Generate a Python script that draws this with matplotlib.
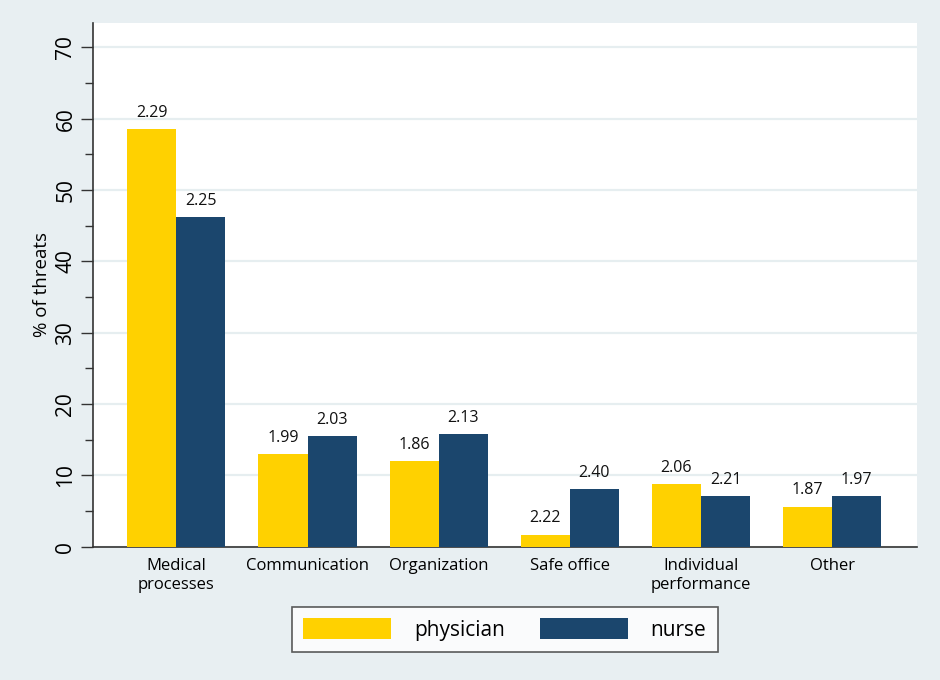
import numpy as np
import matplotlib.pyplot as plt

categories = ["Medical\nprocesses", "Communication", "Organization", "Safe office",
              "Individual\nperformance", "Other"]
physician = [58.5, 13.0, 12.0, 1.7, 8.8, 5.6]
nurse = [46.2, 15.5, 15.8, 8.1, 7.1, 7.1]
physician_labels = ["2.29", "1.99", "1.86", "2.22", "2.06", "1.87"]
nurse_labels = ["2.25", "2.03", "2.13", "2.40", "2.21", "1.97"]

plt.rcParams['font.family'] = ['Open Sans', 'DejaVu Sans']

bg = '#e8eff2'
yellow = '#ffd100'
navy = '#1b466d'

fig = plt.figure(figsize=(9.4, 6.8), dpi=100, facecolor=bg)
ax = fig.add_axes([0.099, 0.196, 0.877, 0.770])
ax.set_facecolor('white')

x = np.arange(len(categories))
w = 0.374
b1 = ax.bar(x - w / 2, physician, w, color=yellow, label='physician', zorder=3)
b2 = ax.bar(x + w / 2, nurse, w, color=navy, label='nurse', zorder=3)

for bars, labs in ((b1, physician_labels), (b2, nurse_labels)):
    for r, t in zip(bars, labs):
        ax.annotate(t, (r.get_x() + r.get_width() / 2, r.get_height()),
                    xytext=(0, 6), textcoords='offset points',
                    ha='center', va='bottom', fontsize=11.5, color='#111111')

ax.set_xlim(-0.635, 5.65)
ax.set_ylim(0, 73.4)
ax.set_yticks(np.arange(0, 71, 10))
ax.set_yticks(np.arange(5, 70, 10), minor=True)
ax.set_yticklabels([str(v) for v in range(0, 71, 10)], rotation=90, va='center', fontsize=15)
ax.set_xticks(x)
ax.set_xticklabels(categories, fontsize=12, linespacing=1.25)
ax.tick_params(axis='x', length=0, pad=8)
ax.tick_params(axis='y', which='major', length=9, width=1, color='#333333', pad=3)
ax.tick_params(axis='y', which='minor', length=6, width=1, color='#333333')
ax.grid(axis='y', color='#e6eef0', linewidth=1.6, zorder=0)
ax.set_axisbelow(True)

for s in ('top', 'right'):
    ax.spines[s].set_visible(False)
for s in ('left', 'bottom'):
    ax.spines[s].set_color('#333333')
    ax.spines[s].set_linewidth(1.2)

ax.set_ylabel("% of threats", fontsize=13.5, labelpad=3)

leg = fig.legend(loc='center', bbox_to_anchor=(0.537, 0.0743), ncol=2, fontsize=15,
                 frameon=True, fancybox=False, edgecolor='#333333',
                 handlelength=4.2, handleheight=1.2, columnspacing=1.7,
                 borderpad=0.55, handletextpad=1.1)
leg.get_frame().set_linewidth(1.2)

fig.savefig('out.png', dpi=100, facecolor=bg)
